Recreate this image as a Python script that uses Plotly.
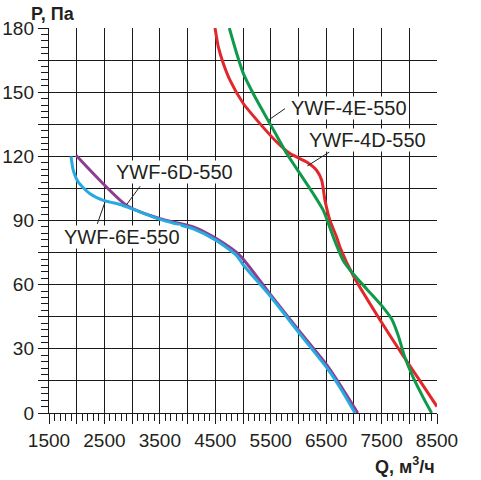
import plotly.graph_objects as go

# YWF-6E-550 (blue)
q_6e = [1897, 1938, 2029, 2240, 2480, 2600, 2781, 2961, 3502, 4103, 4525, 4886, 5005,
        5487, 6028, 6510, 6750, 7020]
p_6e = [120, 113.4, 107.9, 102.5, 99.4, 98.6, 97.5, 95.8, 90.5, 86.1, 80.6, 73.6, 69.2,
        54.8, 36.9, 21.2, 11.9, 0]

# YWF-6D-550 (purple)
q_6d = [1987, 2902, 3502, 4103, 4525, 4946, 5490, 6040, 6530, 6780, 7070]
p_6d = [120.5, 97, 90.8, 87, 81.4, 73.6, 55.5, 37.5, 21.8, 12, 0]

# YWF-4D-550 (red)
q_4d = [4495, 4555, 4645, 4765, 5005, 5306, 5608, 5848, 6149, 6330, 6420, 6479, 6569,
        6690, 6750, 6990, 7502, 7891, 8193, 8500]
p_4d = [180, 171.2, 163.4, 155.6, 144.7, 135.3, 126.7, 121.3, 117.3, 113.4, 108.8, 99.4, 90,
        82.2, 77.5, 64.2, 42.3, 26.7, 15, 3]

# YWF-4E-550 (green)
q_4e = [4753, 4886, 5005, 5247, 5487, 5788, 6028, 6268, 6449, 6630, 6810, 6990, 7231,
        7502, 7682, 7802, 7922, 8072, 8252, 8403]
p_4e = [180, 168.1, 158.8, 146.3, 135.3, 121.3, 111.9, 102.5, 94.7, 82.2, 71.2, 65, 58,
        50.2, 43.9, 36.1, 25.9, 16.5, 7.2, 0]

x_ticks = list(range(1500, 8501, 500))
x_labels = [str(v) if (v - 1500) % 1000 == 0 else "" for v in x_ticks]
y_ticks = list(range(0, 181, 15))
y_labels = [str(v) if v % 30 == 0 else "" for v in y_ticks]

FONT = "Liberation Sans, Arial, sans-serif"
INK = "#231f20"
GRID = "#1a1a1a"

# drawing order: purple under blue, red under green
series = [
    ("YWF-6D-550", q_6d, p_6d, "#8c3f8e"),
    ("YWF-6E-550", q_6e, p_6e, "#27a9e1"),
    ("YWF-4D-550", q_4d, p_4d, "#e2272c"),
    ("YWF-4E-550", q_4e, p_4e, "#0f9a4b"),
]

fig = go.Figure()
for name, q, p, color in series:
    fig.add_trace(go.Scatter(
        x=q, y=p, mode="lines", name=name,
        line=dict(color=color, width=3, shape="spline", smoothing=0.6),
        showlegend=False, hoverinfo="skip",
    ))

# labels: (text, x, y) text anchored left, leader (x0, y0, x1, y1)
labels = [
    ("YWF-6D-550", 2690, 112.5, (2902, 97.5, 3143, 106)),
    ("YWF-6E-550", 1753, 82.2, (2371, 88.4, 2510, 98.6)),
    ("YWF-4E-550", 5848, 142.6, (5474, 137.2, 5758, 142.3)),
    ("YWF-4D-550", 6178, 127.5, (6160, 115.5, 6557, 122)),
]
for text, lx, ly, (x0, y0, x1, y1) in labels:
    fig.add_shape(type="line", x0=x0, y0=y0, x1=x1, y1=y1,
                  line=dict(color=INK, width=1))
    fig.add_annotation(x=lx, y=ly, text=text, showarrow=False, xanchor="left",
                       yanchor="middle", bgcolor="white", borderpad=0,
                       font=dict(family=FONT, size=20, color=INK))

fig.add_annotation(xref="paper", yref="paper", x=0.01, y=1.036, text="<b>P, Па</b>",
                   showarrow=False, xanchor="center", yanchor="middle",
                   font=dict(family=FONT, size=18, color=INK))
fig.add_annotation(xref="paper", yref="paper", x=1.0, y=-0.136,
                   text="<b>Q, м<sup>3</sup>/ч</b>", showarrow=False,
                   xanchor="right", yanchor="middle",
                   font=dict(family=FONT, size=18, color=INK))

axis_common = dict(
    showgrid=True, gridcolor=GRID, gridwidth=1.4,
    showline=True, linecolor=GRID, linewidth=1.4,
    ticks="outside", ticklen=10, tickwidth=1.4, tickcolor=GRID,
    zeroline=False, mirror=False, automargin=False,
    tickfont=dict(family=FONT, size=19, color=INK),
)

fig.update_xaxes(range=[1500, 8500], tickmode="array", tickvals=x_ticks, ticktext=x_labels,
                 minor=dict(dtick=100, ticks="outside", ticklen=7, tickwidth=1.2,
                            tickcolor=GRID, showgrid=False),
                 **axis_common)
fig.update_yaxes(range=[0, 180], tickmode="array", tickvals=y_ticks, ticktext=y_labels,
                 minor=dict(dtick=3, ticks="outside", ticklen=7, tickwidth=1.2,
                            tickcolor=GRID, showgrid=False),
                 **axis_common)

fig.update_layout(
    width=481, height=480,
    margin=dict(l=49, r=44, t=28, b=67),
    paper_bgcolor="white", plot_bgcolor="white",
)

fig.write_html("out.html", config={"displayModeBar": False},
               post_script="document.body.style.margin='0';"
                           "document.body.style.overflow='hidden';")
